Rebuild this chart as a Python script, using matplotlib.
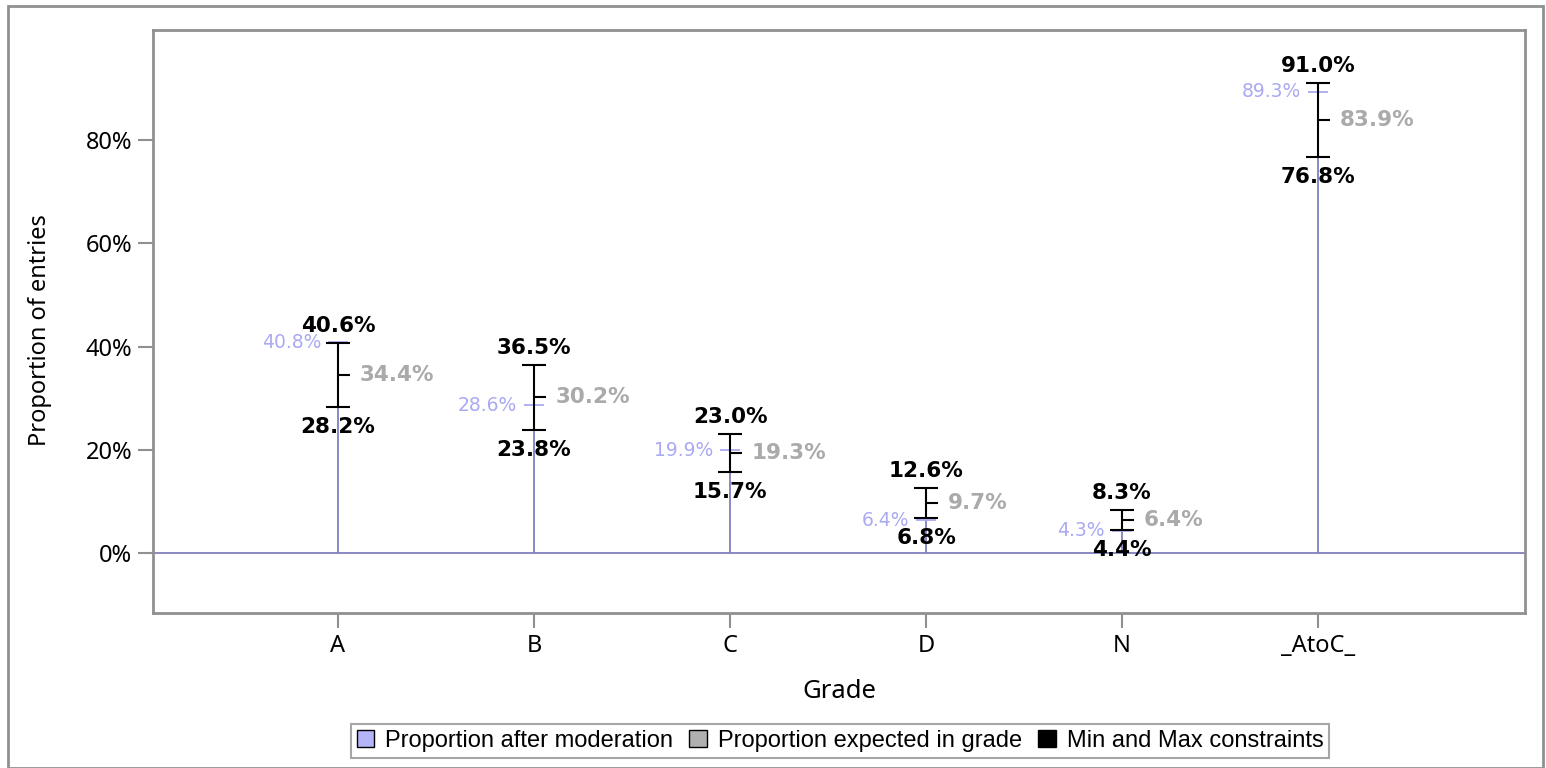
import matplotlib
matplotlib.use("Agg")
import matplotlib.pyplot as plt
from matplotlib.patches import Patch, Rectangle
from matplotlib.ticker import FuncFormatter

grades = ['A', 'B', 'C', 'D', 'N', '_AtoC_']
after_mod = [40.8, 28.6, 19.9, 6.4, 4.3, 89.3]
expected = [34.4, 30.2, 19.3, 9.7, 6.4, 83.9]
min_c = [28.2, 23.8, 15.7, 6.8, 4.4, 76.8]
max_c = [40.6, 36.5, 23.0, 12.6, 8.3, 91.0]

NEEDLE = '#7f7fc0'
LIGHT = '#aaaaf2'
GREY = '#aaaaaa'
FRAME = '#909090'

plt.rcParams['font.family'] = ['Noto Sans', 'DejaVu Sans']

fig = plt.figure(figsize=(15.46, 7.68), dpi=100)
ax = fig.add_axes([153 / 1546, 1 - 613 / 768, (1525 - 153) / 1546, (613 - 30) / 768])

x = list(range(len(grades)))

# baseline + needles for the moderated proportion
ax.axhline(0, color=NEEDLE, lw=1.3, zorder=1)
ax.vlines(x, 0, after_mod, color=NEEDLE, lw=1.3, zorder=1)
ax.plot(x, after_mod, ls='none', marker='_', ms=14, mew=1.3, color=LIGHT, zorder=2)

# min / max constraints with expected tick
ax.vlines(x, min_c, max_c, color='black', lw=1.5, zorder=3)
ax.plot(x, min_c, ls='none', marker='_', ms=17, mew=1.5, color='black', zorder=3)
ax.plot(x, max_c, ls='none', marker='_', ms=17, mew=1.5, color='black', zorder=3)
ax.plot(x, expected, ls='none', marker=1, ms=8.5, mew=1.5, color='black', zorder=3)

lab = dict(textcoords='offset pixels', family='DejaVu Sans')
for i in x:
    ax.annotate(f'{max_c[i]:.1f}%', (i, max_c[i]), xytext=(0, 7), ha='center', va='bottom',
                fontsize=15.5, fontweight='bold', **lab)
    ax.annotate(f'{min_c[i]:.1f}%', (i, min_c[i]), xytext=(0, -10), ha='center', va='top',
                fontsize=15.5, fontweight='bold', **lab)
    ax.annotate(f'{expected[i]:.1f}%', (i, expected[i]), xytext=(22, 0), ha='left', va='center',
                fontsize=15.5, fontweight='bold', color=GREY, **lab)
    ax.annotate(f'{after_mod[i]:.1f}%', (i, after_mod[i]), xytext=(-17, 0), ha='right', va='center',
                fontsize=13.5, color=LIGHT, **lab)

ax.set_xlim(-0.944, 6.056)
ax.set_ylim(-11.6, 101.3)
ax.set_xticks(x)
ax.set_xticklabels(grades)
ax.set_yticks([0, 20, 40, 60, 80])
ax.yaxis.set_major_formatter(FuncFormatter(lambda v, p: f'{v:.0f}%'))
ax.tick_params(labelsize=17, length=11, width=1.5, color=FRAME, labelcolor='black', pad=4)
ax.set_xlabel('Grade', fontsize=18.5, labelpad=15)
ax.set_ylabel('Proportion of entries', fontsize=17)
ax.yaxis.set_label_coords(-0.0736, 0.485)
for s in ax.spines.values():
    s.set_color(FRAME)
    s.set_linewidth(2)

handles = [Patch(facecolor='#b4b4f8', edgecolor='black', label='Proportion after moderation'),
           Patch(facecolor='#b0b0b0', edgecolor='black', label='Proportion expected in grade'),
           Patch(facecolor='black', edgecolor='black', label='Min and Max constraints')]
leg = fig.legend(handles=handles, loc='center', bbox_to_anchor=(840 / 1546, 1 - 741 / 768),
                 ncol=3, fancybox=False, edgecolor=FRAME, handlelength=0.75,
                 handleheight=0.75, handletextpad=0.45, columnspacing=0.7, borderpad=0.25,
                 prop={'family': 'Liberation Sans', 'size': 17})
leg.get_frame().set_linewidth(1.5)

fig.patches.append(Rectangle((8 / 1546, 0), 1535 / 1546, 1 - 6 / 768, transform=fig.transFigure,
                             fill=False, edgecolor=FRAME, lw=2))

fig.savefig('out.png', dpi=100)
